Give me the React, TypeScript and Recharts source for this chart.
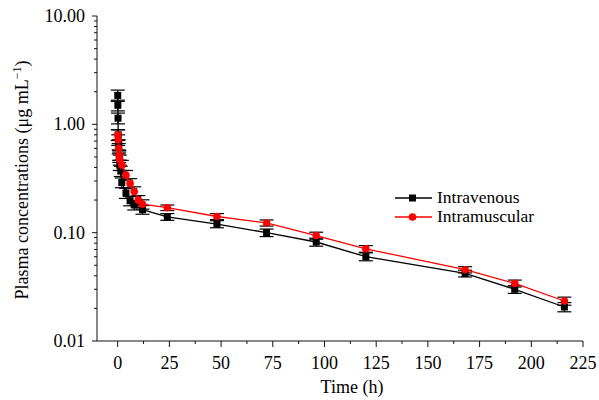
import React from 'react';
import { ComposedChart, Scatter, XAxis, YAxis, ErrorBar } from 'recharts';

const ivTime = [0.033, 0.083, 0.167, 0.25, 0.5, 0.75, 1, 1.5, 2, 4, 6, 8, 12, 24, 48, 72, 96, 120, 168, 192, 216];
const ivConc = [1.85, 1.5, 1.14, 0.8, 0.65, 0.5, 0.42, 0.37, 0.29, 0.232, 0.197, 0.18, 0.163, 0.14, 0.12, 0.1, 0.082, 0.06, 0.042, 0.03, 0.0206];
const ivErr = [0.22, 0.17, 0.13, 0.09, 0.07, 0.055, 0.045, 0.04, 0.03, 0.025, 0.02, 0.018, 0.015, 0.01, 0.009, 0.008, 0.007, 0.005, 0.003, 0.0025, 0.002];

const imTime = [0.083, 0.25, 0.5, 0.75, 1, 2, 4, 6, 8, 10, 12, 24, 48, 72, 96, 120, 168, 192, 216];
const imConc = [0.8, 0.72, 0.6, 0.52, 0.47, 0.42, 0.34, 0.285, 0.24, 0.2, 0.183, 0.17, 0.141, 0.123, 0.094, 0.071, 0.0455, 0.034, 0.0234];
const imErr = [0.09, 0.08, 0.065, 0.055, 0.05, 0.045, 0.035, 0.03, 0.025, 0.02, 0.018, 0.01, 0.009, 0.008, 0.007, 0.005, 0.003, 0.0025, 0.002];

const xTicks = [0, 12.5, 25, 37.5, 50, 62.5, 75, 87.5, 100, 112.5, 125, 137.5, 150, 162.5, 175, 187.5, 200, 212.5, 225];
const yTicks = [
  0.01, 0.02, 0.03, 0.04, 0.05, 0.06, 0.07, 0.08, 0.09,
  0.1, 0.2, 0.3, 0.4, 0.5, 0.6, 0.7, 0.8, 0.9,
  1, 2, 3, 4, 5, 6, 7, 8, 9, 10,
];
const seriesNames = ['Intravenous', 'Intramuscular'];

const ivData = ivTime.map((t, i) => ({ t, c: ivConc[i], e: ivErr[i] }));
const imData = imTime.map((t, i) => ({ t, c: imConc[i], e: imErr[i] }));

const FONT = '"Liberation Serif", "Times New Roman", serif';
const AX = '#111';

const XTick = (props: any) => {
  const { x, y, payload } = props;
  const v = payload.value;
  const major = Math.abs(v % 25) < 1e-9;
  return (
    <g>
      <line x1={x} x2={x} y1={y} y2={y + (major ? 6 : 3)} stroke={AX} strokeWidth={1} />
      {major && (
        <text x={x} y={y + 28} textAnchor="middle" fontFamily={FONT} fontSize={18} fill="#000">
          {v}
        </text>
      )}
    </g>
  );
};

const YTick = (props: any) => {
  const { x, y, payload } = props;
  const v = payload.value;
  const lg = Math.log10(v);
  const major = Math.abs(lg - Math.round(lg)) < 1e-9;
  return (
    <g>
      <line x1={x} x2={x - (major ? 5 : 3)} y1={y} y2={y} stroke={AX} strokeWidth={1} />
      {major && (
        <text x={x - 12} y={y + 6} textAnchor="end" fontFamily={FONT} fontSize={18} fill="#000">
          {v.toFixed(2)}
        </text>
      )}
    </g>
  );
};

const Square = (props: any) => {
  const { cx, cy } = props;
  return <rect x={cx - 3.5} y={cy - 3.5} width={7} height={7} fill="#000" />;
};
const Dot = (props: any) => {
  const { cx, cy } = props;
  return <circle cx={cx} cy={cy} r={3.8} fill="#ff0000" />;
};

const LegendBlock = () => (
  <g transform="translate(393,184)">
    <line x1={2} x2={39} y1={14} y2={14} stroke="#000" strokeWidth={1.3} />
    <rect x={16} y={10.5} width={7} height={7} fill="#000" />
    <text x={44} y={19} fontFamily={FONT} fontSize={17.5} fill="#000">{seriesNames[0]}</text>
    <line x1={2} x2={39} y1={33} y2={33} stroke="#ff0000" strokeWidth={1.3} />
    <circle cx={19.5} cy={33} r={3.8} fill="#ff0000" />
    <text x={44} y={38} fontFamily={FONT} fontSize={17.5} fill="#000">{seriesNames[1]}</text>
  </g>
);

export default function App() {
  return (
    <div style={{ position: 'absolute', left: 0, top: 0, width: 599, height: 400, background: '#fff' }}>
      <ComposedChart width={599} height={400} margin={{ top: 16, right: 16, left: 0, bottom: 0 }}>
        <XAxis
          type="number"
          dataKey="t"
          domain={[-10, 225]}
          ticks={xTicks}
          interval={0}
          allowDataOverflow
          height={59}
          tickSize={0}
          tickMargin={0}
          tickLine={false}
          axisLine={{ stroke: AX, strokeWidth: 1 }}
          tick={<XTick />}
          label={{
            content: () => (
              <g>
                <text x={352} y={393} textAnchor="middle" fontFamily={FONT} fontSize={18} fill="#000">
                  Time (h)
                </text>
                <LegendBlock />
              </g>
            ),
          }}
        />
        <YAxis
          type="number"
          dataKey="c"
          scale="log"
          domain={[0.01, 10]}
          ticks={yTicks}
          interval={0}
          allowDataOverflow
          width={97}
          tickSize={0}
          tickMargin={0}
          tickLine={false}
          axisLine={{ stroke: AX, strokeWidth: 1 }}
          tick={<YTick />}
          label={{
            content: () => (
              <text
                transform="translate(28,180) rotate(-90)"
                textAnchor="middle"
                fontFamily={FONT}
                fontSize={18}
                fill="#000"
              >
                Plasma concentrations (μg mL
                <tspan fontSize={12} dy={-7}>−1</tspan>
                <tspan dy={7}>)</tspan>
              </text>
            ),
          }}
        />
        <Scatter
          name={seriesNames[0]}
          data={ivData}
          shape={<Square />}
          line={{ stroke: '#000', strokeWidth: 1.3 }}
          isAnimationActive={false}
        >
          <ErrorBar dataKey="e" direction="y" width={7} stroke="#000" strokeWidth={1.2} />
        </Scatter>
        <Scatter
          name={seriesNames[1]}
          data={imData}
          shape={<Dot />}
          line={{ stroke: '#ff0000', strokeWidth: 1.3 }}
          isAnimationActive={false}
        >
          <ErrorBar dataKey="e" direction="y" width={7} stroke="#000" strokeWidth={1.2} />
        </Scatter>
      </ComposedChart>
    </div>
  );
}
